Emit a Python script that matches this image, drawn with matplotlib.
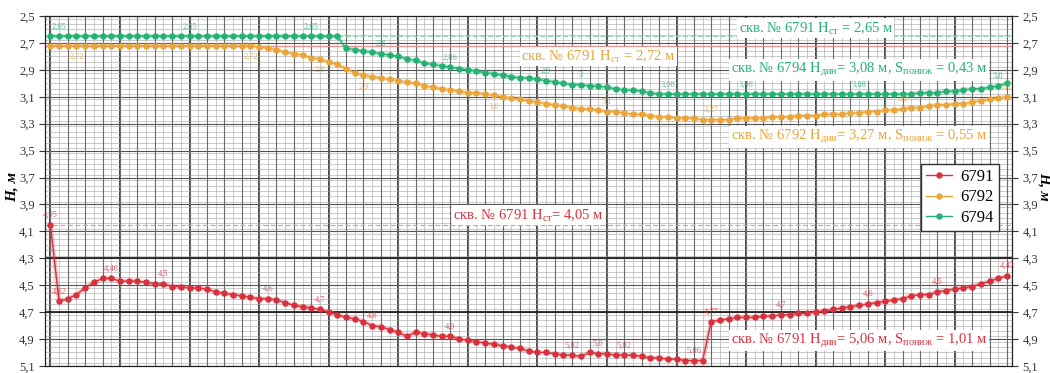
"""Water level drawdown in wells 6791, 6792, 6794 (recreated chart)."""

import matplotlib

matplotlib.use("Agg")
import matplotlib.pyplot as plt
import numpy as np
from matplotlib.ticker import FuncFormatter, MultipleLocator

plt.rcParams["font.family"] = ["Liberation Serif", "DejaVu Serif"]
plt.rcParams["mathtext.fontset"] = "custom"
plt.rcParams["mathtext.rm"] = "Liberation Serif"

# --- data: depth to water level, m (one value per measurement) ---
level_6791 = [
    4.05, 4.62, 4.60, 4.57, 4.52, 4.48, 4.45, 4.45, 4.47, 4.47,
    4.47, 4.48, 4.49, 4.49, 4.51, 4.51, 4.52, 4.52, 4.53, 4.55,
    4.56, 4.57, 4.58, 4.59, 4.60, 4.60, 4.61, 4.63, 4.65, 4.66,
    4.67, 4.68, 4.70, 4.72, 4.74, 4.75, 4.77, 4.80, 4.81, 4.83,
    4.85, 4.88, 4.85, 4.86, 4.87, 4.88, 4.88, 4.90, 4.91, 4.92,
    4.93, 4.94, 4.95, 4.96, 4.97, 4.99, 5.00, 5.00, 5.01, 5.02,
    5.02, 5.03, 5.00, 5.01, 5.01, 5.02, 5.02, 5.02, 5.03, 5.04,
    5.04, 5.05, 5.05, 5.06, 5.06, 5.06, 4.77, 4.76, 4.75, 4.74,
    4.74, 4.74, 4.73, 4.73, 4.72, 4.72, 4.71, 4.71, 4.70, 4.69,
    4.68, 4.67, 4.66, 4.65, 4.64, 4.63, 4.62, 4.61, 4.60, 4.58,
    4.57, 4.57, 4.55, 4.54, 4.53, 4.52, 4.51, 4.49, 4.47, 4.45,
    4.43,
]
level_6792 = [
    2.72, 2.72, 2.72, 2.72, 2.72, 2.72, 2.72, 2.72, 2.72, 2.72,
    2.72, 2.72, 2.72, 2.72, 2.72, 2.72, 2.72, 2.72, 2.72, 2.72,
    2.72, 2.72, 2.72, 2.72, 2.73, 2.74, 2.75, 2.77, 2.78, 2.79,
    2.81, 2.82, 2.84, 2.86, 2.89, 2.92, 2.94, 2.95, 2.96, 2.97,
    2.98, 2.99, 3.00, 3.02, 3.03, 3.04, 3.05, 3.06, 3.07, 3.07,
    3.08, 3.09, 3.10, 3.11, 3.12, 3.13, 3.14, 3.15, 3.16, 3.17,
    3.18, 3.19, 3.19, 3.20, 3.21, 3.21, 3.22, 3.23, 3.23, 3.24,
    3.25, 3.25, 3.26, 3.26, 3.26, 3.27, 3.27, 3.27, 3.27, 3.26,
    3.26, 3.26, 3.26, 3.25, 3.25, 3.25, 3.24, 3.24, 3.24, 3.23,
    3.23, 3.23, 3.22, 3.22, 3.21, 3.21, 3.20, 3.20, 3.19, 3.18,
    3.18, 3.17, 3.16, 3.16, 3.15, 3.15, 3.14, 3.13, 3.12, 3.11,
    3.10,
]
level_6794 = [
    2.65, 2.65, 2.65, 2.65, 2.65, 2.65, 2.65, 2.65, 2.65, 2.65,
    2.65, 2.65, 2.65, 2.65, 2.65, 2.65, 2.65, 2.65, 2.65, 2.65,
    2.65, 2.65, 2.65, 2.65, 2.65, 2.65, 2.65, 2.65, 2.65, 2.65,
    2.65, 2.65, 2.65, 2.65, 2.74, 2.75, 2.76, 2.77, 2.78, 2.79,
    2.80, 2.82, 2.83, 2.85, 2.86, 2.87, 2.88, 2.89, 2.90, 2.91,
    2.92, 2.93, 2.94, 2.95, 2.96, 2.96, 2.97, 2.98, 2.99, 3.00,
    3.01, 3.01, 3.02, 3.02, 3.03, 3.04, 3.05, 3.05, 3.06, 3.07,
    3.08, 3.08, 3.08, 3.08, 3.08, 3.08, 3.08, 3.08, 3.08, 3.08,
    3.08, 3.08, 3.08, 3.08, 3.08, 3.08, 3.08, 3.08, 3.08, 3.08,
    3.08, 3.08, 3.08, 3.08, 3.08, 3.08, 3.08, 3.08, 3.08, 3.08,
    3.07, 3.07, 3.07, 3.06, 3.06, 3.05, 3.04, 3.04, 3.03, 3.02,
    3.00,
]

# point labels: index of the measurement and the text written next to it
labels_6791_idx = [0, 1, 7, 13, 25, 31, 37, 46, 60, 63, 66, 74, 76, 84, 94, 102, 110]
labels_6791_txt = ["4,05", "4,62", "4,46", "4,5", "4,6", "4,7", "4,8", "4,9", "5,02", "5,0",
                   "5,02", "5,06", "4,77", "4,7", "4,6", "4,5", "4,43"]
labels_6792_idx = [3, 23, 31, 36, 51, 64, 76, 98, 110]
labels_6792_txt = ["2,72", "2,72", "2,8", "2,9", "3,0", "3,1", "3,27", "3,2", "3,1"]
labels_6794_idx = [1, 16, 30, 38, 46, 57, 61, 71, 80, 93, 109]
labels_6794_txt = ["2,65", "2,65", "2,65", "2,8", "2,86", "2,9", "3", "3,08", "3,08", "3,08", "3,0"]

static_levels = [2.65, 2.72, 4.05]

series_names = ["6791", "6792", "6794"]
series_colors = ["#d8313d", "#eba437", "#25b173"]

y_ticks = np.arange(2.5, 5.11, 0.2)


def comma(value, _pos=None):
    return f"{value:.1f}".replace(".", ",")


fig = plt.figure(figsize=(10.5, 3.73), dpi=100)
ax = fig.add_axes([0.043, 0.019, 0.921, 0.938])

x = np.arange(len(level_6791))
ax.set_xlim(-0.6, len(x) - 0.4)
ax.set_ylim(5.1, 2.5)

# graph-paper grid
ax.xaxis.set_major_locator(MultipleLocator(8))
ax.xaxis.set_minor_locator(MultipleLocator(1))
ax.set_yticks(y_ticks)
ax.yaxis.set_minor_locator(MultipleLocator(0.04))
ax.yaxis.set_major_formatter(FuncFormatter(comma))
ax.grid(which="minor", color="#b5b5b5", lw=0.5)
ax.grid(which="major", axis="y", color="#555555", lw=0.8)
ax.grid(which="major", axis="x", color="#333333", lw=1.3)
ax.vlines(np.arange(0, len(x), 2), 0, 1, transform=ax.get_xaxis_transform(),
          color="#6a6a6a", lw=0.8, zorder=0.6)
ax.hlines([4.3, 4.7], 0, 1, transform=ax.get_yaxis_transform(), color="#222222", lw=1.3, zorder=0.6)
ax.set_axisbelow(True)

ax.tick_params(axis="x", which="both", length=0, labelbottom=False)
ax.tick_params(axis="y", which="major", direction="out", length=4, width=0.8,
               labelsize=9, left=True, right=True, labelleft=True, labelright=True, colors="#333333")
ax.tick_params(axis="y", which="minor", length=0)
for spine in ax.spines.values():
    spine.set_color("#222222")
    spine.set_linewidth(0.9)

# static level reference lines
ax.axhline(static_levels[0], color="#8fd8b5", lw=0.9, ls=(0, (4, 2)), zorder=1.5)
ax.axhline(static_levels[1], color="#e89090", lw=0.9, zorder=1.5)
ax.axhline(static_levels[2], color="#d9a0a0", lw=0.9, ls=(0, (4, 2)), zorder=1.5)

series = [level_6791, level_6792, level_6794]
for values, name, color in zip(series, series_names, series_colors):
    ax.plot(x, values, color=color, lw=3.2, alpha=0.25, zorder=2)
    ax.plot(x, values, color=color, lw=1.0, marker="o", ms=3.6, mec=color, mfc=color,
            label=name, zorder=3)

label_sets = [
    (level_6791, labels_6791_idx, labels_6791_txt, series_colors[0]),
    (level_6792, labels_6792_idx, labels_6792_txt, series_colors[1]),
    (level_6794, labels_6794_idx, labels_6794_txt, series_colors[2]),
]
for values, idx_list, txt_list, color in label_sets:
    for idx, txt in zip(idx_list, txt_list):
        # orange labels sit under the line on its upper half, above it further on
        below = color == series_colors[1] and idx < 60
        ax.annotate(txt, (idx, values[idx]), xytext=(0, -8 if below else 7),
                    textcoords="offset points", ha="center", va="center",
                    fontsize=6, color=color, alpha=0.8, zorder=4)

box = dict(facecolor="white", edgecolor="none", pad=1.0)
ax.text(88, 2.59, "скв. № 6791 H$_{\\mathregular{ст}}$ = 2,65 м", color=series_colors[2],
        fontsize=10.5, ha="center", va="center", bbox=box, zorder=5)
ax.text(63, 2.80, "скв. № 6791 H$_{\\mathregular{ст}}$ = 2,72 м", color=series_colors[1],
        fontsize=10.5, ha="center", va="center", bbox=box, zorder=5)
ax.text(93, 2.90, "скв. № 6794 H$_{\\mathregular{дин}}$= 3,08 м, S$_{\\mathregular{пониж}}$ = 0,43 м",
        color=series_colors[2], fontsize=10.5, ha="center", va="center", bbox=box, zorder=5)
ax.text(93, 3.40, "скв. № 6792 H$_{\\mathregular{дин}}$= 3,27 м, S$_{\\mathregular{пониж}}$ = 0,55 м",
        color=series_colors[1], fontsize=10.5, ha="center", va="center", bbox=box, zorder=5)
ax.text(55, 3.98, "скв. № 6791 H$_{\\mathregular{ст}}$= 4,05 м", color=series_colors[0],
        fontsize=10.5, ha="center", va="center", bbox=box, zorder=5)
ax.text(93, 4.91, "скв. № 6791 H$_{\\mathregular{дин}}$= 5,06 м, S$_{\\mathregular{пониж}}$ = 1,01 м",
        color=series_colors[0], fontsize=10.5, ha="center", va="center", bbox=box, zorder=5)

legend = ax.legend(loc="upper right", bbox_to_anchor=(0.995, 0.6), fontsize=12,
                   handlelength=1.6, handletextpad=0.5, borderpad=0.3, labelspacing=0.25,
                   fancybox=False, framealpha=1, edgecolor="#333333")
legend.set_zorder(6)

fig.text(0.012, 0.50, "H, м", rotation=90, ha="center", va="center",
         fontsize=11, style="italic", fontweight="bold")
fig.text(0.9945, 0.50, "H, м", rotation=270, ha="center", va="center",
         fontsize=10.5, style="italic", fontweight="bold")

fig.savefig("out.png", dpi=100)
plt.close(fig)
